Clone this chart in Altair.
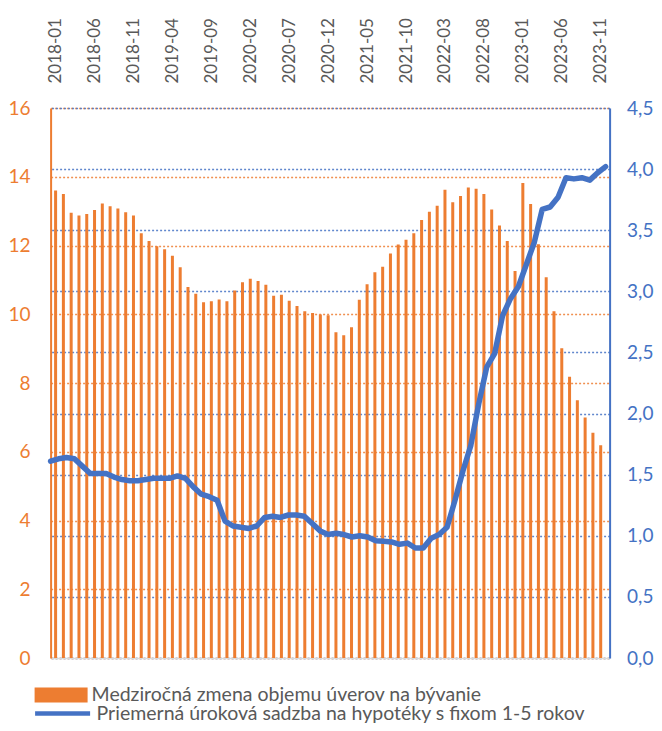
import altair as alt
import pandas as pd

months = [f"{y}-{m:02d}" for y in range(2018, 2024) for m in range(1, 13)][:71]

loan_growth = [
    13.6, 13.50, 12.95, 12.87, 12.92, 13.03, 13.22, 13.14, 13.08, 12.97,
    12.87, 12.36, 12.13, 11.98, 11.89, 11.70, 11.37, 10.79, 10.60, 10.35,
    10.38, 10.43, 10.38, 10.69, 10.93, 11.03, 10.97, 10.86, 10.54, 10.57,
    10.39, 10.24, 10.09, 10.04, 9.99, 9.97, 9.48, 9.39, 9.62, 10.42,
    10.87, 11.22, 11.38, 11.77, 12.03, 12.17, 12.36, 12.74, 12.98, 13.16,
    13.62, 13.26, 13.44, 13.69, 13.65, 13.50, 13.05, 12.58, 12.13, 11.26,
    13.82, 13.21, 12.04, 11.08, 10.09, 9.01, 8.18, 7.50, 7.00, 6.55,
    6.19,
]

mortgage_rate = [
    1.61, 1.63, 1.64, 1.63, 1.57, 1.51, 1.51, 1.51, 1.48, 1.46,
    1.45, 1.45, 1.46, 1.47, 1.47, 1.47, 1.49, 1.47, 1.40, 1.34,
    1.32, 1.29, 1.12, 1.08, 1.07, 1.06, 1.08, 1.15, 1.16, 1.15,
    1.17, 1.17, 1.16, 1.10, 1.04, 1.01, 1.02, 1.01, 0.99, 1.00,
    0.99, 0.96, 0.955, 0.95, 0.93, 0.94, 0.90, 0.90, 0.98, 1.01,
    1.07, 1.29, 1.53, 1.74, 2.08, 2.38, 2.49, 2.80, 2.94, 3.04,
    3.22, 3.40, 3.67, 3.69, 3.77, 3.93, 3.92, 3.93, 3.91, 3.97,
    4.02,
]

tick_positions = list(range(0, 71, 5))
tick_labels = [months[i] for i in tick_positions]
left_ticks = [0, 2, 4, 6, 8, 10, 12, 14, 16]
right_ticks = [0, 0.5, 1.0, 1.5, 2.0, 2.5, 3.0, 3.5, 4.0, 4.5]

bar_label = "Medziročná zmena objemu úverov na bývanie"
line_label = "Priemerná úroková sadzba na hypotéky s fixom 1-5 rokov"

df = pd.DataFrame({
    "idx": list(range(len(months))),
    "month": months,
    "growth": loan_growth,
    "rate": mortgage_rate,
    "bar_series": bar_label,
    "line_series": line_label,
})

ORANGE = "#ED7D31"
BLUE = "#4472C4"
GREY = "#595959"
FONT = "Lato"

label_expr = "[" + ",".join(f"'{t}'" for t in tick_labels) + "][round(datum.value/5)]"

xscale = alt.Scale(domain=[0, 70.5], nice=False, zero=False)

bars = alt.Chart(df).mark_bar(size=3, clip=True).encode(
    x=alt.X("idx:Q", scale=xscale, axis=alt.Axis(
        orient="top", values=tick_positions, labelExpr=label_expr,
        labelAngle=-90, labelAlign="left", labelBaseline="middle",
        labelPadding=25, ticks=False, tickSize=0, domain=False, grid=False,
        labelColor=GREY, labelFontSize=17, labelFont=FONT, title=None)),
    y=alt.Y("growth:Q", scale=alt.Scale(domain=[0, 16], nice=False), axis=alt.Axis(
        orient="left", values=left_ticks, format="d", labelPadding=20.5,
        ticks=False, domain=True, domainColor=ORANGE, domainWidth=2,
        grid=True, gridColor=ORANGE, gridDash=[2, 2], gridWidth=1.5, gridOpacity=0.85,
        labelColor=ORANGE, labelFontSize=19, labelFont=FONT, title=None)),
    fill=alt.Fill("bar_series:N", scale=alt.Scale(domain=[bar_label], range=[ORANGE]),
                  legend=alt.Legend(
                      orient="none", legendX=-16, legendY=560.5, title=None,
                      symbolType="M-1,-0.28H1V0.28H-1Z", symbolSize=2809,
                      symbolStrokeWidth=0, labelFont=FONT, labelFontSize=19.5,
                      labelColor=GREY, labelOffset=4, labelLimit=1000, padding=0)),
)

line = alt.Chart(df).mark_line(strokeWidth=5.5, strokeCap="round", strokeJoin="round").encode(
    x=alt.X("idx:Q", scale=xscale, axis=alt.Axis(
        orient="bottom", labels=False, ticks=False, grid=False, domain=True,
        domainColor="#D9D9D9", domainWidth=1.5, title=None)),
    y=alt.Y("rate:Q", scale=alt.Scale(domain=[0, 4.5], nice=False), axis=alt.Axis(
        orient="right", values=right_ticks,
        labelExpr="replace(format(datum.value, '.1f'), '.', ',')",
        labelPadding=17, ticks=False, domain=True, domainColor=BLUE, domainWidth=2,
        grid=True, gridColor=BLUE, gridDash=[2, 2], gridWidth=1.5, gridOpacity=0.85,
        labelColor=BLUE, labelFontSize=19, labelFont=FONT, title=None)),
    stroke=alt.Stroke("line_series:N", scale=alt.Scale(domain=[line_label], range=[BLUE]),
                      legend=alt.Legend(
                          orient="none", legendX=-18, legendY=575.5, title=None,
                          symbolType="stroke", symbolSize=3025, symbolStrokeWidth=4.5,
                          labelFont=FONT, labelFontSize=19.5, labelColor=GREY,
                          labelOffset=4, labelLimit=1000, padding=0)),
)

chart = alt.layer(bars, line).resolve_scale(
    y="independent", x="independent", fill="independent", stroke="independent"
).properties(
    width=559, height=550,
    autosize=alt.AutoSizeParams(type="none"),
    padding={"left": 42.6, "top": 100, "right": 44.4, "bottom": 65},
).configure_view(stroke=None)

chart.save("out.html", embed_options={"renderer": "svg", "actions": False})
